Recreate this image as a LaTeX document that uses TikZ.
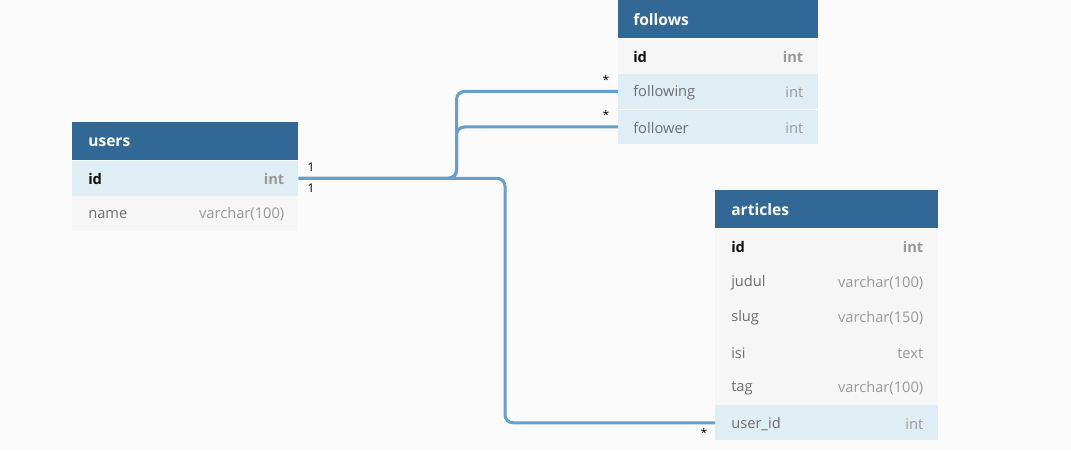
\documentclass[tikz,border=0pt]{standalone}
\usepackage{fontspec}
\setmainfont{Open Sans}
\usetikzlibrary{calc}
\definecolor{bg}{HTML}{FBFBFB}
\definecolor{hdr}{HTML}{316896}
\definecolor{rowg}{HTML}{F6F6F6}
\definecolor{rowh}{HTML}{DFEDF5}
\definecolor{conn}{HTML}{659FCD}
\definecolor{fname}{HTML}{6E6E6E}
\definecolor{ftype}{HTML}{999999}
\definecolor{pkname}{HTML}{111111}
\tikzset{
  px/.style={x=0.75pt,y=-0.75pt},
  hdrbox/.style={rectangle,fill=hdr,draw=none,inner sep=0pt,anchor=north west,minimum height=38*0.75pt},
  rowbox/.style={rectangle,fill=rowg,draw=none,inner sep=0pt,anchor=north west,minimum height=35*0.75pt},
  hlrow/.style={rowbox,fill=rowh},
  htext/.style={anchor=west,inner sep=0pt,yshift=-0.6pt,text=white,font=\fontsize{11.7pt}{13pt}\selectfont\bfseries},
  ntext/.style={anchor=west,inner sep=0pt,yshift=-0.8pt,text=fname,font=\fontsize{11pt}{12pt}\selectfont},
  pktext/.style={anchor=west,inner sep=0pt,yshift=-0.8pt,text=pkname,font=\fontsize{11pt}{12pt}\selectfont\bfseries},
  ttext/.style={anchor=east,inner sep=0pt,yshift=-0.8pt,text=ftype,font=\fontsize{11pt}{12pt}\selectfont},
  pkttext/.style={anchor=east,inner sep=0pt,yshift=-0.8pt,text=ftype,font=\fontsize{11pt}{12pt}\selectfont\bfseries},
  connline/.style={draw=conn,line width=2.25pt,rounded corners=6pt},
  card/.style={inner sep=0pt,text=black,font=\fontsize{9pt}{10pt}\selectfont},
}
\begin{document}
\begin{tikzpicture}[px]
\fill[bg] (0,0) rectangle (1071,450);
\useasboundingbox (0,0) rectangle (1071,450);
% users
\node[hdrbox,minimum width=226*0.75pt] (uh) at (72,122) {};
\node[hlrow,minimum width=226*0.75pt] (uid) at (72,160.5) {};
\node[rowbox,minimum width=226*0.75pt] (uname) at (72,195.5) {};
\node[htext] (uht) at ([xshift=16*0.75pt]uh.west) {users};
\node[pktext] (uidn) at ([xshift=16*0.75pt]uid.west) {id};
\node[pkttext] (uidt) at ([xshift=-14*0.75pt]uid.east) {int};
\node[ntext] (unamen) at ([xshift=16*0.75pt]uname.west) {name};
\node[ttext] (unamet) at ([xshift=-14*0.75pt]uname.east) {varchar(100)};
% follows
\node[hdrbox,minimum width=200*0.75pt] (fh) at (618,0) {};
\node[rowbox,minimum width=200*0.75pt] (fid) at (618,38.5) {};
\node[hlrow,minimum width=200*0.75pt] (fwing) at (618,73.7) {};
\node[hlrow,minimum width=200*0.75pt] (fwer) at (618,109.2) {};
\draw[white,line width=0.5pt] (fwing.south west) -- (fwing.south east);
\node[htext] (fht) at ([xshift=15*0.75pt]fh.west) {follows};
\node[pktext] (fidn) at ([xshift=15*0.75pt]fid.west) {id};
\node[pkttext] (fidt) at ([xshift=-15*0.75pt]fid.east) {int};
\node[ntext] (fwingn) at ([xshift=15*0.75pt]fwing.west) {following};
\node[ttext] (fwingt) at ([xshift=-15*0.75pt]fwing.east) {int};
\node[ntext] (fwern) at ([xshift=15*0.75pt]fwer.west) {follower};
\node[ttext] (fwert) at ([xshift=-15*0.75pt]fwer.east) {int};
% articles
\node[hdrbox,minimum width=223*0.75pt] (ah) at (715,190) {};
\node[rowbox,minimum width=223*0.75pt,minimum height=176*0.75pt] (abody) at (715,228.5) {};
\node[rowbox,minimum width=223*0.75pt,fill=none] (aid) at (715,228.5) {};
\node[rowbox,minimum width=223*0.75pt,fill=none] (ajud) at (715,263.8) {};
\node[rowbox,minimum width=223*0.75pt,fill=none] (aslug) at (715,299.1) {};
\node[rowbox,minimum width=223*0.75pt,fill=none] (aisi) at (715,334.4) {};
\node[rowbox,minimum width=223*0.75pt,fill=none] (atag) at (715,369.7) {};
\node[hlrow,minimum width=223*0.75pt] (auid) at (715,405) {};
\node[htext] (aht) at ([xshift=16*0.75pt]ah.west) {articles};
\node[pktext] (aidn) at ([xshift=16*0.75pt]aid.west) {id};
\node[pkttext] (aidt) at ([xshift=-15*0.75pt]aid.east) {int};
\node[ntext] (ajudn) at ([xshift=16*0.75pt]ajud.west) {judul};
\node[ttext] (ajudt) at ([xshift=-15*0.75pt]ajud.east) {varchar(100)};
\node[ntext] (aslugn) at ([xshift=16*0.75pt]aslug.west) {slug};
\node[ttext] (aslugt) at ([xshift=-15*0.75pt]aslug.east) {varchar(150)};
\node[ntext] (aisin) at ([xshift=16*0.75pt]aisi.west) {isi};
\node[ttext] (aisit) at ([xshift=-15*0.75pt]aisi.east) {text};
\node[ntext] (atagn) at ([xshift=16*0.75pt]atag.west) {tag};
\node[ttext] (atagt) at ([xshift=-15*0.75pt]atag.east) {varchar(100)};
\node[ntext] (auidn) at ([xshift=16*0.75pt]auid.west) {user\_id};
\node[ttext] (auidt) at ([xshift=-15*0.75pt]auid.east) {int};
% junctions
\coordinate (j1) at (456.5,0);
\coordinate (j2) at (505,0);
% connectors
\draw[connline] (uid.east) -| (j1 |- fwing.west) -- (fwing.west);
\draw[connline] (uid.east) -| (j1 |- fwer.west) -- (fwer.west);
\draw[connline] (uid.east) -| (j2 |- auid.west) -- (auid.west);
% cardinalities
\node[card] (c1) at (311,167) {1};
\node[card] (c2) at (311,188.5) {1};
\node[card] (c3) at (606,80) {*};
\node[card] (c4) at (606,115) {*};
\node[card] (c5) at (704,433) {*};
\end{tikzpicture}
\end{document}
